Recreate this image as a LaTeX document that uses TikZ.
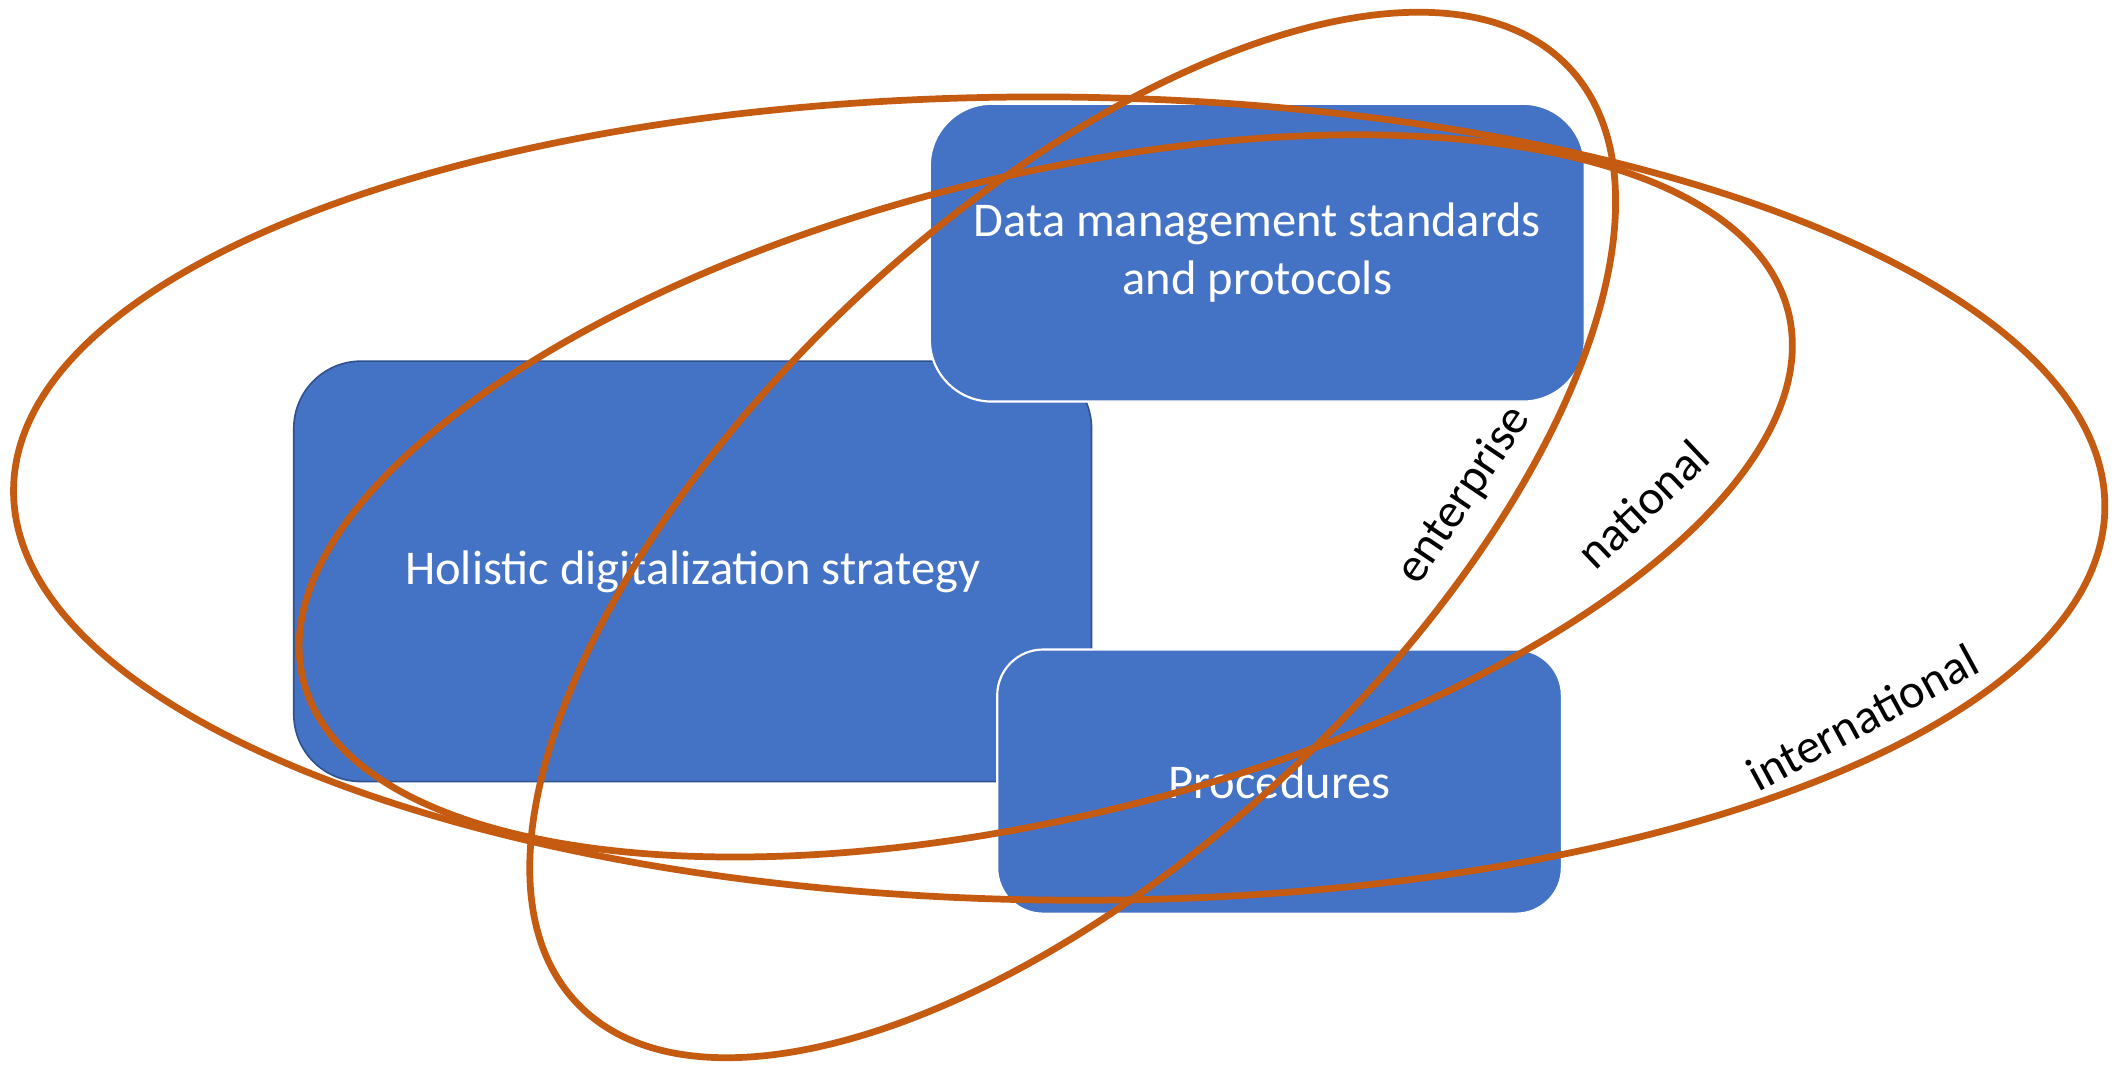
\documentclass[tikz,border=0pt]{standalone}
\usepackage{fontspec}
\setmainfont{Carlito}
\begin{document}
\begin{tikzpicture}[x=1pt,y=1pt,
  box/.style={fill=fillColor,rounded corners=#1,inner sep=0pt,outer sep=0pt,align=center,text=white,font=\fontsize{18}{21.6}\selectfont},
  ring/.style={draw=ringColor,line width=2.5pt},
  tag/.style={text=black,inner sep=0pt,outer sep=0pt,font=\fontsize{18}{21.6}\selectfont}]
\definecolor{fillColor}{RGB}{68,114,196}
\definecolor{edgeColor}{RGB}{47,82,143}
\definecolor{ringColor}{RGB}{197,90,17}
\path[use as bounding box,fill=white] (0,0) rectangle (784.00,396.00);

% boxes
\node[box=25pt,draw=edgeColor,line width=0.6pt,minimum width=296.00pt,minimum height=156.00pt] (strategy) at (257.00,184.00) {Holistic digitalization strategy};

\node[box=23pt,draw=white,line width=0.8pt,minimum width=243.00pt,minimum height=110.50pt] (standards) at (466.50,302.25) {Data management standards\\and protocols};

\node[box=17pt,draw=white,line width=0.8pt,minimum width=209.50pt,minimum height=98.00pt] (procedures) at (474.75,106.00) {Procedures};

% scopes
\path[ring,rotate around={-0.50:(393.00,211.00)}] (393.00,211.00) ellipse [x radius=388.00,y radius=149.00];

\path[ring,rotate around={13.90:(388.00,212.00)}] (388.00,212.00) ellipse [x radius=283.85,y radius=118.80];

\path[ring,rotate around={43.30:(398.00,197.50)}] (398.00,197.50) ellipse [x radius=253.00,y radius=119.00];

% labels
\node[tag,rotate=56.00] (enterprise) at (543.25,212.35) {enterprise};

\node[tag,rotate=43.50] (national) at (609.40,208.95) {national};

\node[tag,rotate=28.50] (international) at (691.05,129.80) {international};
\end{tikzpicture}
\end{document}
